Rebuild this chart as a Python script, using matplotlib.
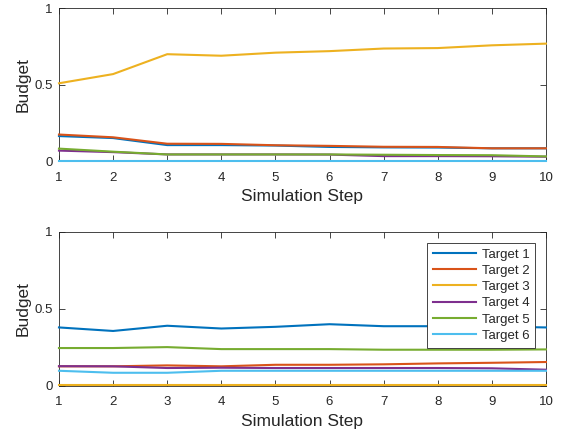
"""Budget allocation per target over simulation steps."""

import matplotlib.pyplot as plt
import numpy as np

plt.rcParams["font.family"] = ["Liberation Sans", "DejaVu Sans"]

steps = np.arange(1, 11)
target_names = ["Target 1", "Target 2", "Target 3", "Target 4", "Target 5", "Target 6"]

# first run
top_t1 = [0.165, 0.152, 0.106, 0.106, 0.103, 0.094, 0.091, 0.090, 0.085, 0.085]
top_t2 = [0.175, 0.157, 0.115, 0.114, 0.105, 0.101, 0.095, 0.094, 0.085, 0.085]
top_t3 = [0.51, 0.57, 0.70, 0.69, 0.71, 0.72, 0.737, 0.740, 0.758, 0.769]
top_t4 = [0.070, 0.060, 0.045, 0.045, 0.045, 0.044, 0.034, 0.034, 0.033, 0.030]
top_t5 = [0.083, 0.063, 0.045, 0.045, 0.045, 0.045, 0.043, 0.041, 0.040, 0.032]
top_t6 = [0.002] * 10

# second run
bot_t1 = [0.379, 0.356, 0.390, 0.372, 0.383, 0.400, 0.387, 0.387, 0.385, 0.379]
bot_t2 = [0.126, 0.126, 0.132, 0.126, 0.136, 0.136, 0.139, 0.145, 0.149, 0.154]
bot_t3 = [0.003] * 10
bot_t4 = [0.127, 0.126, 0.115, 0.117, 0.115, 0.115, 0.115, 0.115, 0.113, 0.104]
bot_t5 = [0.245, 0.245, 0.251, 0.238, 0.238, 0.238, 0.234, 0.234, 0.234, 0.236]
bot_t6 = [0.097, 0.084, 0.084, 0.097, 0.097, 0.097, 0.097, 0.097, 0.097, 0.097]

colors = ["#0072BD", "#D95319", "#EDB120", "#7E2F8E", "#77AC30", "#4DBEEE"]
axis_gray = "#262626"


def style_axes(ax):
    ax.set_xlim(1, 10)
    ax.set_ylim(0, 1)
    ax.set_xticks(steps)
    ax.set_yticks([0, 0.5, 1])
    ax.set_yticklabels(["0", "0.5", "1"])
    ax.tick_params(direction="in", length=4, width=0.6, labelsize=9.5,
                   colors=axis_gray, top=True, right=True)
    ax.tick_params(axis="x", pad=7.5)
    ax.tick_params(axis="y", pad=4.5)
    for spine in ax.spines.values():
        spine.set_color(axis_gray)
        spine.set_linewidth(0.6)
    ax.set_xlabel("Simulation Step", fontsize=12.5, color=axis_gray, labelpad=4)
    ax.set_ylabel("Budget", fontsize=12.5, color=axis_gray, labelpad=3)


fig = plt.figure(figsize=(5.66, 4.36), dpi=100)
ax_top = fig.add_axes([0.1042, 0.630, 0.8604, 0.351])
ax_bot = fig.add_axes([0.1042, 0.1154, 0.8604, 0.3525])

top_series = [top_t1, top_t2, top_t3, top_t4, top_t5, top_t6]
bot_series = [bot_t1, bot_t2, bot_t3, bot_t4, bot_t5, bot_t6]

# lines sit on top of the spines, so the near-zero series stays visible
for vals, color, name in zip(top_series, colors, target_names):
    ax_top.plot(steps, vals, color=color, linewidth=1.5, label=name,
                zorder=3, clip_on=False)
for vals, color, name in zip(bot_series, colors, target_names):
    ax_bot.plot(steps, vals, color=color, linewidth=1.5, label=name,
                zorder=3, clip_on=False)

style_axes(ax_top)
style_axes(ax_bot)

leg = ax_bot.legend(loc="upper right", fontsize=9.5, frameon=True, fancybox=False,
                    edgecolor=axis_gray, framealpha=1, handlelength=3.3,
                    handletextpad=0.4, labelspacing=0.3, borderpad=0.45,
                    borderaxespad=0.8)
leg.get_frame().set_linewidth(0.6)
leg.set_zorder(5)
for text in leg.get_texts():
    text.set_color(axis_gray)

fig.savefig("out.png", dpi=100)
plt.close(fig)
